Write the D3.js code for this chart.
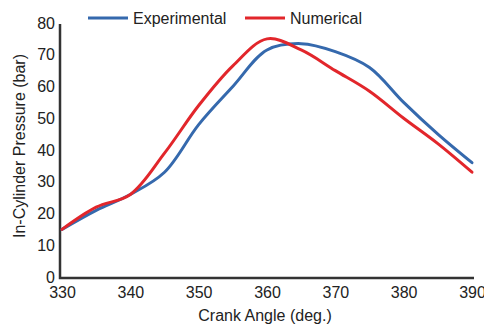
<!DOCTYPE html>
<html>
<head>
<meta charset="utf-8">
<script src="https://cdn.jsdelivr.net/npm/d3@7"></script>
<style>
body { margin: 0; background: #fff; }
text { font-family: "Liberation Sans", Arial, sans-serif; fill: #222; }
</style>
</head>
<body>
<div id="chart"></div>
<script>
// crank angle (deg.) and in-cylinder pressure (bar)
var angles = [330, 335, 340, 345, 350, 355, 360, 365, 370, 375, 380, 385, 390];
var experimental = [15, 21, 26, 33, 48, 60, 71.5, 73.5, 71, 66, 55, 45, 36];
var numerical = [15, 22, 26, 39, 54, 66.5, 75, 71.5, 65, 58.5, 50, 42, 33];
var xTicks = [330, 340, 350, 360, 370, 380, 390];
var yTicks = [0, 10, 20, 30, 40, 50, 60, 70, 80];

var width = 484;
var height = 325;

var svg = d3.select("#chart")
.append("svg")
.attr("width", width)
.attr("height", height);

var x = d3.scaleLinear().domain([330, 390]).range([62, 472]);
var y = d3.scaleLinear().domain([0, 80]).range([277, 23]);

// axes
var xAxis = d3.axisBottom(x).tickValues(xTicks).tickSize(0).tickPadding(9);
var yAxis = d3.axisLeft(y).tickValues(yTicks).tickSize(0).tickPadding(5);

var gx = svg.append("g")
.attr("transform", "translate(0,278)")
.call(xAxis);
gx.select(".domain").remove();
gx.selectAll("text").style("font-size", "16px").attr("fill", "#222");

var gy = svg.append("g")
.attr("transform", "translate(60,0)")
.call(yAxis);
gy.select(".domain").remove();
gy.selectAll("text").style("font-size", "16px").attr("fill", "#222");

svg.append("path")
.attr("d", "M60,24V278H474")
.attr("fill", "none")
.attr("stroke", "#333")
.attr("stroke-width", 2.5);

// axis titles
svg.append("text")
.attr("x", 265)
.attr("y", 321)
.attr("text-anchor", "middle")
.style("font-size", "16px")
.text("Crank Angle (deg.)");

svg.append("text")
.attr("transform", "translate(25,146) rotate(-90)")
.attr("text-anchor", "middle")
.style("font-size", "16px")
.text("In-Cylinder Pressure (bar)");

// curves
var line = d3.line()
.x(function(d) { return x(d[0]); })
.y(function(d) { return y(d[1]); })
.curve(d3.curveCatmullRom.alpha(0.5));

var series = [
  {name: "Experimental", values: experimental, color: "#3569ad"},
  {name: "Numerical", values: numerical, color: "#e2262b"}
];

series.forEach(function(s) {
  svg.append("path")
  .datum(angles.map(function(a, i) { return [a, s.values[i]]; }))
  .attr("fill", "none")
  .attr("stroke", s.color)
  .attr("stroke-width", 3)
  .attr("stroke-linecap", "round")
  .attr("d", line);
});

// legend
var legendX = [88, 245];
series.forEach(function(s, i) {
  var g = svg.append("g")
  .attr("transform", "translate(" + legendX[i] + ",18)");
  g.append("line")
  .attr("x1", 0)
  .attr("x2", 40)
  .attr("stroke", s.color)
  .attr("stroke-width", 3);
  g.append("text")
  .attr("x", 45)
  .attr("y", 6)
  .style("font-size", "16px")
  .text(s.name);
});
</script>
</body>
</html>
